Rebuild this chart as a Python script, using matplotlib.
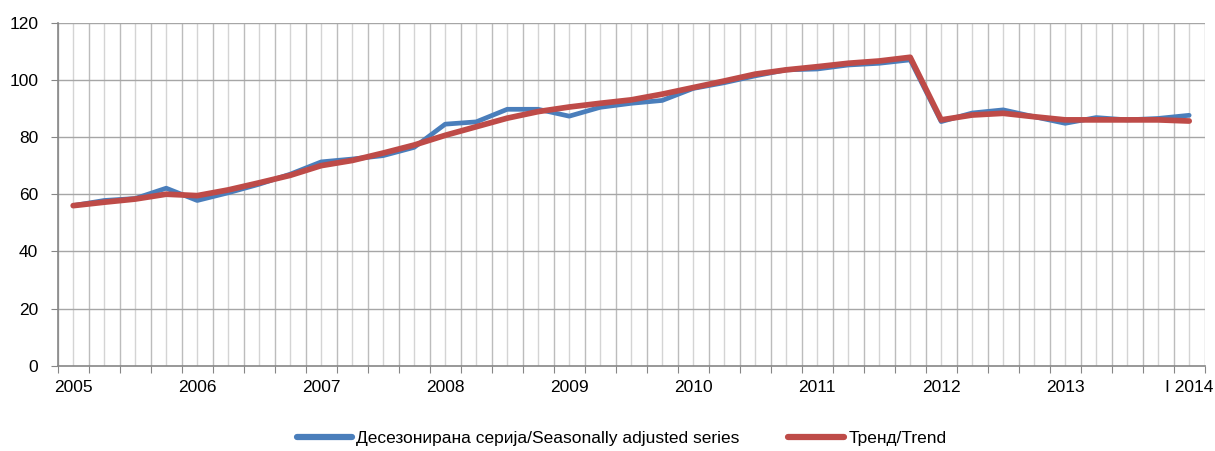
import matplotlib
matplotlib.use("Agg")
import matplotlib.pyplot as plt
import numpy as np
from matplotlib import font_manager

names = {f.name for f in font_manager.fontManager.ttflist}
fam = ['Liberation Sans Narrow', 'Liberation Sans', 'DejaVu Sans']
fam = [f for f in fam if f in names] + ['DejaVu Sans']
plt.rcParams['font.family'] = fam

# quarterly data 2005 Q1 .. 2014 Q1
seasonally_adjusted = [56.0, 57.8, 58.5, 62.1, 57.8, 60.5, 63.5, 67.0, 71.3, 72.3,
                       73.5, 76.4, 84.5, 85.3, 89.7, 89.7, 87.3, 90.4, 91.8, 92.8,
                       97.0, 99.0, 101.4, 103.5, 103.8, 105.2, 105.8, 107.0, 85.4, 88.4,
                       89.5, 87.1, 84.8, 86.8, 86.0, 86.5, 87.6]
trend = [56.0, 57.2, 58.3, 60.0, 59.5, 61.5, 64.0, 66.6, 70.0, 71.8,
         74.4, 77.2, 80.6, 83.6, 86.6, 88.9, 90.5, 91.8, 93.0, 95.0,
         97.3, 99.6, 102.0, 103.5, 104.6, 105.8, 106.6, 107.9, 86.0, 87.7,
         88.3, 87.1, 86.0, 86.0, 86.0, 86.0, 85.6]
year_labels = ['2005', '2006', '2007', '2008', '2009', '2010', '2011', '2012', '2013', 'I 2014']
legend_labels = ['Десезонирана серија/Seasonally adjusted series', 'Тренд/Trend']

x = np.arange(len(trend))

fig = plt.figure(figsize=(12.15, 4.51), dpi=100)
ax = fig.add_axes([0.0475, 0.1891, 0.944, 0.7606])

# vertical gridlines every half-quarter
for k in range(len(trend)):
    ax.axvline(k, color='#d4d4d4', lw=1.0, zorder=0)
for k in range(len(trend) + 1):
    ax.axvline(k - 0.5, color='#bcbcbc', lw=1.0, zorder=0)
for yv in range(20, 121, 20):
    ax.axhline(yv, color='#a6a6a6', lw=1.0, zorder=0)

ax.plot(x, seasonally_adjusted, color='#4A7EBB', lw=3.4, solid_capstyle='round',
        solid_joinstyle='round', label=legend_labels[0], zorder=3)
ax.plot(x, trend, color='#BE4B48', lw=4.1, solid_capstyle='round',
        solid_joinstyle='round', label=legend_labels[1], zorder=4)

ax.set_xlim(-0.5, len(trend) - 0.5)
ax.set_ylim(0, 120)
ax.set_yticks(range(0, 121, 20))
ax.set_xticks(np.arange(len(trend) + 1) - 0.5)
ax.set_xticklabels([])
ax.set_xticks(np.arange(0, len(trend), 4), minor=True)
ax.set_xticklabels(year_labels, minor=True)
ax.tick_params(axis='x', which='major', length=5, color='#868686', direction='out')
ax.tick_params(axis='x', which='minor', length=0, pad=10, labelsize=12.5)
ax.tick_params(axis='y', length=5, color='#868686', labelsize=12.5, pad=9)

for s in ['top', 'right']:
    ax.spines[s].set_visible(False)
for s in ['left', 'bottom']:
    ax.spines[s].set_color('#868686')
    ax.spines[s].set_linewidth(1.2)

leg = fig.legend(loc='center', bbox_to_anchor=(0.5115, 13 / 451), ncol=2, frameon=False,
                 fontsize=12.5, handlelength=3.2, columnspacing=2.8, handletextpad=0.25)
for h in leg.legend_handles:
    h.set_linewidth(4.5)

fig.savefig('out.png', dpi=100)
